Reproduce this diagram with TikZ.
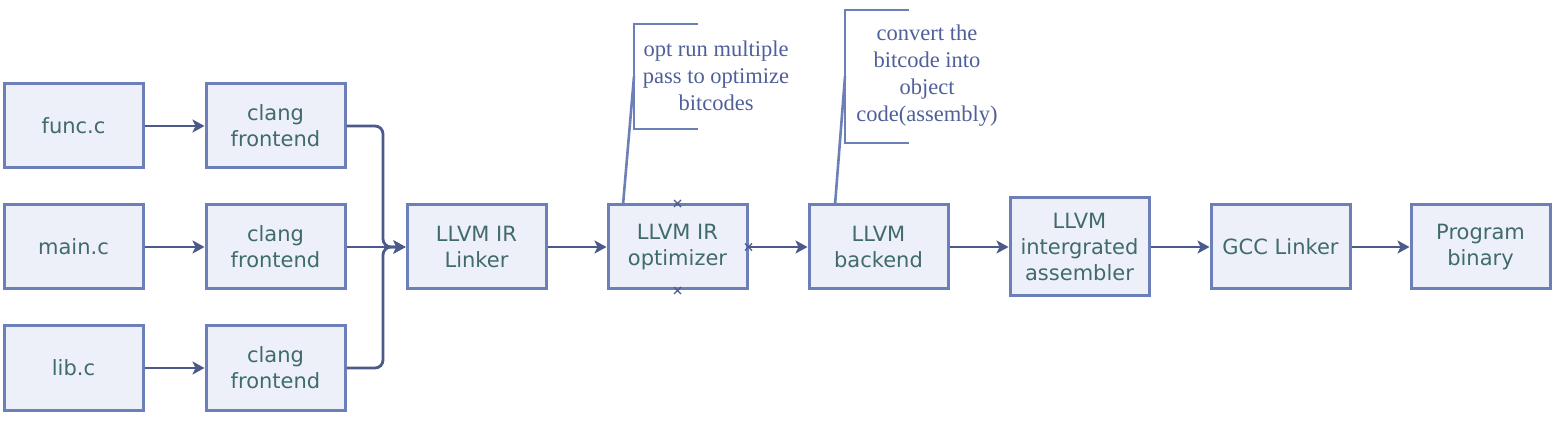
\documentclass[tikz,border=0pt]{standalone}
\usepackage{fontspec}
\setmainfont{Liberation Serif}
\newfontfamily\boxfont{DejaVu Sans}
\usetikzlibrary{arrows.meta,calc}
\definecolor{bfill}{HTML}{EEF0F9}
\definecolor{bdraw}{HTML}{6C7FB8}
\definecolor{btext}{HTML}{3F6B6B}
\definecolor{ntext}{HTML}{4F5F9A}
\definecolor{aline}{HTML}{4B5A8A}
\tikzset{
  box/.style={draw=bdraw, fill=bfill, line width=3pt, minimum width=139pt, minimum height=84pt,
    inner sep=0pt, align=center, text=btext, font=\boxfont\fontsize{21}{26}\selectfont},
  conn/.style={draw=aline, line width=2.8pt, -{Stealth[length=12pt,width=13pt,inset=3pt]}},
  note/.style={align=center, text=ntext, font=\fontsize{22.5}{27}\selectfont, inner sep=0pt},
  brk/.style={draw=bdraw, line width=2.6pt},
  xmark/.style={draw=aline, line width=1.1pt}
}
\begin{document}
\begin{tikzpicture}[x=1pt,y=-1pt]
\useasboundingbox (0,0) rectangle (1563,435);
% sources
\node[box] (func) at (73.5,126) {func.c};
\node[box] (main) at (73.5,247) {main.c};
\node[box] (lib) at (73.5,368) {lib.c};
% clang
\node[box] (c1) at (275.5,126) {clang\\frontend};
\node[box] (c2) at (275.5,247) {clang\\frontend};
\node[box] (c3) at (275.5,368) {clang\\frontend};
% chain
\node[box] (link) at (476.5,247) {LLVM IR\\Linker};
\node[box] (opt) at (677.5,247) {LLVM IR\\optimizer};
\node[box] (back) at (878.5,247) {LLVM\\backend};
\node[box, minimum height=98pt] (asm) at (1079.5,247) {LLVM\\intergrated\\assembler};
\node[box] (gcc) at (1280.5,247) {GCC Linker};
\node[box] (prog) at (1480.5,247) {Program\\binary};
% arrows
\draw[conn] (func) -- (c1);
\draw[conn] (main) -- (c2);
\draw[conn] (lib) -- (c3);
\coordinate (tt) at (383,126);
\coordinate (tm) at (383,247);
\coordinate (tb) at (383,368);
\draw[conn, rounded corners=8pt] (c1.east) -- (tt) -- (tm) -- (link.west);
\draw[conn, rounded corners=8pt] (c3.east) -- (tb) -- (tm) -- (link.west);
\draw[conn] (c2) -- (link);
\draw[conn] (link) -- (opt);
\draw[conn] (opt) -- (back);
\draw[conn] (back) -- (asm);
\draw[conn] (asm) -- (gcc);
\draw[conn] (gcc) -- (prog);
% notes
\node[note] (optnote) at (716,76) {opt run multiple\\pass to optimize\\bitcodes};
\draw[brk] (698,24) -- (634,24) -- (634,129) -- (698,129);
\coordinate (optb) at (634,76.5);
\coordinate (optfoot) at (623,205);
\draw[brk] (optfoot) -- (optb);
\node[note] (backnote) at (927,76) {convert the\\bitcode into\\object\\code(assembly)};
\draw[brk] (909,10) -- (845,10) -- (845,143) -- (909,143);
\coordinate (backb) at (845,76.5);
\coordinate (backfoot) at (835,205);
\draw[brk] (backfoot) -- (backb);
% selection markers on optimizer
\foreach \p in {opt.north, opt.east, opt.south}{
  \draw[xmark] ($(\p)+(-3.5,-3.5)$) -- ($(\p)+(3.5,3.5)$) ($(\p)+(-3.5,3.5)$) -- ($(\p)+(3.5,-3.5)$);
}
\end{tikzpicture}
\end{document}
